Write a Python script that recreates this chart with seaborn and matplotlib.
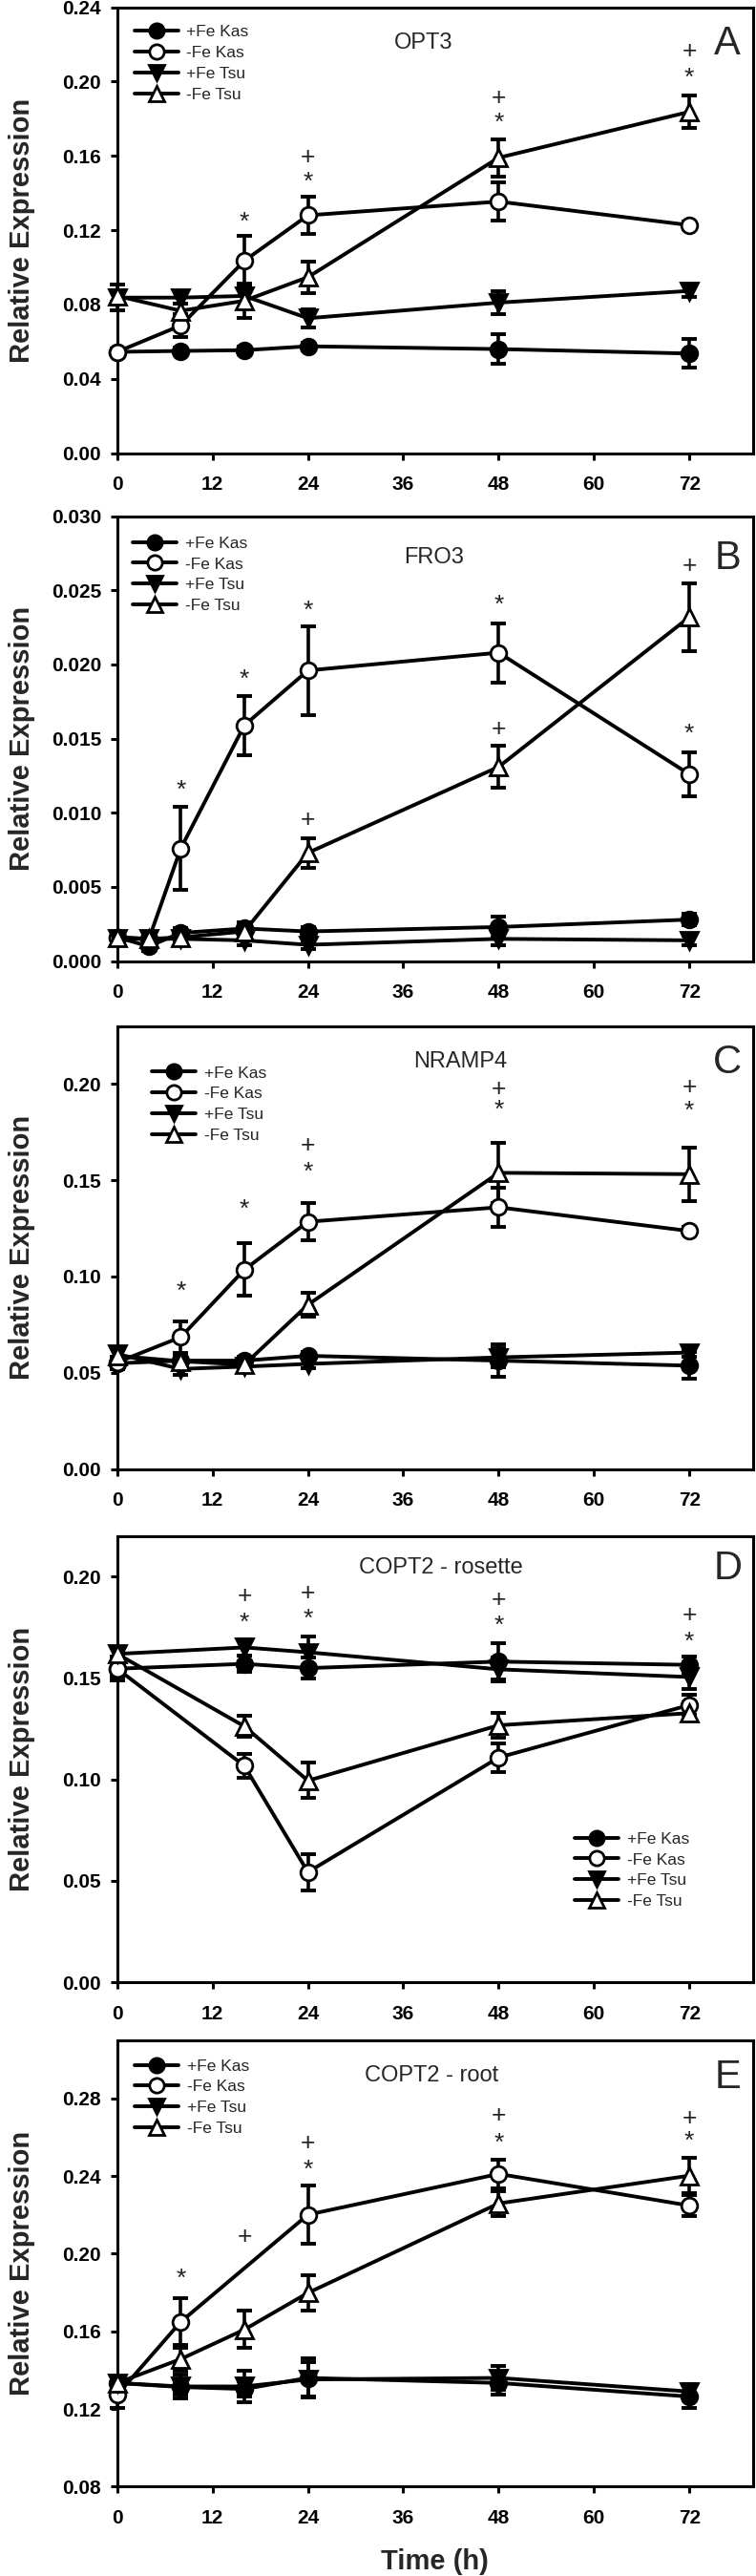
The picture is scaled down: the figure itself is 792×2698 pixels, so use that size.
import numpy as np
import pandas as pd
import seaborn as sns
import matplotlib.pyplot as plt
from matplotlib.lines import Line2D

# ---- data ----
SERIES_NAMES = ["+Fe Kas", "-Fe Kas", "+Fe Tsu", "-Fe Tsu"]

# A: OPT3
OPT3_HOURS = [0, 8, 16, 24, 48, 72]
OPT3_KAS_PLUS = [0.0545, 0.0550, 0.0554, 0.0575, 0.0560, 0.0536]
OPT3_KAS_PLUS_ERR = [0.002, 0.002, 0.002, 0.002, 0.008, 0.0078]
OPT3_KAS_MINUS = [0.0545, 0.0687, 0.1035, 0.1280, 0.1354, 0.1227]
OPT3_KAS_MINUS_ERR = [0.002, 0.006, 0.0135, 0.0100, 0.0104, 0.002]
OPT3_TSU_PLUS = [0.0837, 0.0837, 0.0846, 0.0726, 0.0810, 0.0873]
OPT3_TSU_PLUS_ERR = [0.007, 0.003, 0.006, 0.005, 0.006, 0.003]
OPT3_TSU_MINUS = [0.0846, 0.0766, 0.0820, 0.0947, 0.1590, 0.1837]
OPT3_TSU_MINUS_ERR = [0.003, 0.004, 0.009, 0.0086, 0.010, 0.0087]
OPT3_SIG = [(16, "*", 0.124), (24, "*", 0.146), (24, "+", 0.159), (48, "*", 0.1775),
            (48, "+", 0.191), (72, "*", 0.202), (72, "+", 0.216)]

# B: FRO3
FRO3_HOURS = [0, 4, 8, 16, 24, 48, 72]
FRO3_KAS_PLUS = [0.0016, 0.0010, 0.0019, 0.0022, 0.0020, 0.0023, 0.0028]
FRO3_KAS_PLUS_ERR = [0.0003, 0.0003, 0.0003, 0.0004, 0.0003, 0.0007, 0.0004]
FRO3_KAS_MINUS = [0.0016, 0.0015, 0.0076, 0.0159, 0.0196, 0.0208, 0.0126]
FRO3_KAS_MINUS_ERR = [0.0003, 0.0004, 0.0028, 0.0020, 0.0030, 0.0020, 0.0015]
FRO3_TSU_PLUS = [0.0015, 0.0015, 0.0015, 0.0014, 0.0011, 0.0015, 0.0014]
FRO3_TSU_PLUS_ERR = [0.0003, 0.0003, 0.0003, 0.0003, 0.0003, 0.0004, 0.0003]
FRO3_TSU_MINUS = [0.0016, 0.0015, 0.0016, 0.0020, 0.0073, 0.0131, 0.0232]
FRO3_TSU_MINUS_ERR = [0.0003, 0.0003, 0.0003, 0.0004, 0.0010, 0.0014, 0.0023]
FRO3_SIG = [(8, "*", 0.0115), (16, "*", 0.0190), (24, "*", 0.0236), (48, "*", 0.0240),
            (24, "+", 0.0095), (48, "+", 0.0156), (72, "+", 0.0266), (72, "*", 0.0153)]

# C: NRAMP4
NRAMP4_HOURS = [0, 8, 16, 24, 48, 72]
NRAMP4_KAS_PLUS = [0.0549, 0.0563, 0.0563, 0.0588, 0.0563, 0.0537]
NRAMP4_KAS_PLUS_ERR = [0.003, 0.003, 0.002, 0.002, 0.0083, 0.007]
NRAMP4_KAS_MINUS = [0.0554, 0.0685, 0.1035, 0.1284, 0.1359, 0.1236]
NRAMP4_KAS_MINUS_ERR = [0.003, 0.008, 0.0136, 0.0098, 0.0102, 0.002]
NRAMP4_TSU_PLUS = [0.0597, 0.0520, 0.0532, 0.0546, 0.0580, 0.0605]
NRAMP4_TSU_PLUS_ERR = [0.003, 0.003, 0.002, 0.002, 0.005, 0.002]
NRAMP4_TSU_MINUS = [0.0588, 0.0560, 0.0542, 0.0853, 0.1538, 0.1531]
NRAMP4_TSU_MINUS_ERR = [0.004, 0.004, 0.002, 0.0063, 0.0155, 0.0139]
NRAMP4_SIG = [(8, "*", 0.092), (16, "*", 0.1347), (24, "*", 0.1538), (24, "+", 0.168),
              (48, "*", 0.1862), (48, "+", 0.197), (72, "*", 0.186), (72, "+", 0.198)]

# D: COPT2 - rosette
ROSETTE_HOURS = [0, 16, 24, 48, 72]
ROSETTE_KAS_PLUS = [0.1546, 0.1570, 0.1549, 0.1581, 0.1565]
ROSETTE_KAS_PLUS_ERR = [0.004, 0.004, 0.005, 0.009, 0.004]
ROSETTE_KAS_MINUS = [0.1546, 0.1067, 0.0543, 0.1108, 0.1367]
ROSETTE_KAS_MINUS_ERR = [0.006, 0.006, 0.009, 0.007, 0.005]
ROSETTE_TSU_PLUS = [0.1619, 0.1651, 0.1627, 0.1543, 0.1505]
ROSETTE_TSU_PLUS_ERR = [0.003, 0.004, 0.008, 0.006, 0.006]
ROSETTE_TSU_MINUS = [0.1619, 0.1262, 0.0994, 0.1267, 0.1327]
ROSETTE_TSU_MINUS_ERR = [0.003, 0.005, 0.0087, 0.006, 0.003]
ROSETTE_SIG = [(16, "*", 0.1773), (16, "+", 0.1903), (24, "*", 0.1789), (24, "+", 0.1919),
               (48, "*", 0.1757), (48, "+", 0.1883), (72, "*", 0.1676), (72, "+", 0.181)]

# E: COPT2 - root
ROOT_HOURS = [0, 8, 16, 24, 48, 72]
ROOT_KAS_PLUS = [0.1334, 0.1313, 0.1303, 0.1360, 0.1334, 0.1264]
ROOT_KAS_PLUS_ERR = [0.003, 0.004, 0.004, 0.010, 0.006, 0.006]
ROOT_KAS_MINUS = [0.1273, 0.1649, np.nan, 0.2201, 0.2411, 0.2248]
ROOT_KAS_MINUS_ERR = [0.007, 0.012, np.nan, 0.015, 0.0075, 0.0055]
ROOT_TSU_PLUS = [0.1334, 0.1316, 0.1316, 0.1352, 0.1360, 0.1290]
ROOT_TSU_PLUS_ERR = [0.003, 0.006, 0.008, 0.009, 0.006, 0.004]
ROOT_TSU_MINUS = [0.1334, 0.1457, 0.1609, 0.1798, 0.2259, 0.2402]
ROOT_TSU_MINUS_ERR = [0.003, 0.006, 0.0096, 0.009, 0.0065, 0.009]
ROOT_SIG = [(8, "*", 0.1868), (16, "+", 0.2084), (24, "*", 0.2429), (24, "+", 0.2569),
            (48, "*", 0.2569), (48, "+", 0.2709), (72, "*", 0.2578), (72, "+", 0.2697)]

X_TICKS = [0, 12, 24, 36, 48, 60, 72]

# marker style per series (marker, face colour)
STYLES = {"+Fe Kas": ("o", "black"), "-Fe Kas": ("o", "white"),
          "+Fe Tsu": ("v", "black"), "-Fe Tsu": ("^", "white")}

sns.set_theme(style="ticks")
plt.rcParams["font.family"] = ["Liberation Sans", "DejaVu Sans"]
plt.rcParams["axes.linewidth"] = 2.2


def long_table(hours, vals, errs):
    rows = []
    for name, v, e in zip(SERIES_NAMES, vals, errs):
        for h, y, s in zip(hours, v, e):
            rows.append({"hour": h, "series": name, "value": y, "err": s})
    return pd.DataFrame(rows).dropna()


def draw_panel(ax, df, ylim, yticks, yfmt, title, title_xy, letter, leg_anchor, sig):
    for name in SERIES_NAMES:
        sub = df[df["series"] == name]
        marker, face = STYLES[name]
        ax.errorbar(sub["hour"], sub["value"], yerr=sub["err"], fmt="none",
                    ecolor="black", elinewidth=2.6, capsize=6, capthick=2.8,
                    zorder=2, clip_on=False)
        sns.lineplot(data=sub, x="hour", y="value", ax=ax, color="black",
                     estimator=None, sort=True, lw=2.8, marker=marker,
                     markersize=12 if marker == "o" else 13,
                     markerfacecolor=face, markeredgecolor="black",
                     markeredgewidth=2.0, zorder=3, clip_on=False, legend=False)

    ax.set_xlim(0, 80)
    ax.set_ylim(*ylim)
    ax.set_xticks(X_TICKS)
    ax.set_yticks(yticks)
    ax.set_yticklabels([yfmt.format(t) for t in yticks])
    ax.tick_params(axis="both", direction="out", length=5, width=2.2,
                   labelsize=15, colors="black")
    ax.tick_params(axis="x", pad=12)
    ax.tick_params(axis="y", pad=7)
    for lab in ax.get_xticklabels() + ax.get_yticklabels():
        lab.set_fontweight("bold")
    for sp in ax.spines.values():
        sp.set_visible(True)
        sp.set_color("black")
        sp.set_linewidth(2.2)

    ax.set_xlabel("")
    ax.set_ylabel("Relative Expression", fontsize=21, fontweight="bold", va="center")
    ax.yaxis.set_label_coords(-0.15, 0.5)

    ax.text(title_xy[0], title_xy[1], title, transform=ax.transAxes,
            ha="center", va="center", fontsize=17)
    ax.text(0.96, title_xy[1] - 0.003, letter, transform=ax.transAxes,
            ha="center", va="center", fontsize=30)

    for h, sym, y in sig:
        ax.text(h, y, sym, ha="center", va="center", fontsize=19,
                color="#222222", fontweight="light")

    handles = []
    for name in SERIES_NAMES:
        marker, face = STYLES[name]
        handles.append(Line2D([], [], color="black", lw=2.8, marker=marker,
                              markersize=11, markerfacecolor=face,
                              markeredgecolor="black", markeredgewidth=2.0,
                              label=name))
    ax.legend(handles=handles, loc="upper left", bbox_to_anchor=leg_anchor,
              frameon=False, fontsize=12.5, handlelength=2.65,
              handletextpad=0.5, labelspacing=0.38, borderpad=0,
              borderaxespad=0)


fig = plt.figure(figsize=(7.92, 26.98), dpi=100)
left, width = 0.155, 0.841
ax_a = fig.add_axes([left, 0.8241, width, 0.1731])
ax_b = fig.add_axes([left, 0.6269, width, 0.1727])
ax_c = fig.add_axes([left, 0.4297, width, 0.1720])
ax_d = fig.add_axes([left, 0.2305, width, 0.1732])
ax_e = fig.add_axes([left, 0.0347, width, 0.1733])

draw_panel(ax_a,
           long_table(OPT3_HOURS,
                      [OPT3_KAS_PLUS, OPT3_KAS_MINUS, OPT3_TSU_PLUS, OPT3_TSU_MINUS],
                      [OPT3_KAS_PLUS_ERR, OPT3_KAS_MINUS_ERR, OPT3_TSU_PLUS_ERR, OPT3_TSU_MINUS_ERR]),
           (0, 0.24), np.arange(0, 0.241, 0.04), "{:.2f}", "OPT3", (0.482, 0.92), "A",
           (0.027, 0.96), OPT3_SIG)

draw_panel(ax_b,
           long_table(FRO3_HOURS,
                      [FRO3_KAS_PLUS, FRO3_KAS_MINUS, FRO3_TSU_PLUS, FRO3_TSU_MINUS],
                      [FRO3_KAS_PLUS_ERR, FRO3_KAS_MINUS_ERR, FRO3_TSU_PLUS_ERR, FRO3_TSU_MINUS_ERR]),
           (0, 0.030), np.arange(0, 0.0301, 0.005), "{:.3f}", "FRO3", (0.498, 0.908), "B",
           (0.025, 0.955), FRO3_SIG)

draw_panel(ax_c,
           long_table(NRAMP4_HOURS,
                      [NRAMP4_KAS_PLUS, NRAMP4_KAS_MINUS, NRAMP4_TSU_PLUS, NRAMP4_TSU_MINUS],
                      [NRAMP4_KAS_PLUS_ERR, NRAMP4_KAS_MINUS_ERR, NRAMP4_TSU_PLUS_ERR, NRAMP4_TSU_MINUS_ERR]),
           (0, 0.23), np.arange(0, 0.201, 0.05), "{:.2f}", "NRAMP4", (0.539, 0.92), "C",
           (0.055, 0.91), NRAMP4_SIG)

draw_panel(ax_d,
           long_table(ROSETTE_HOURS,
                      [ROSETTE_KAS_PLUS, ROSETTE_KAS_MINUS, ROSETTE_TSU_PLUS, ROSETTE_TSU_MINUS],
                      [ROSETTE_KAS_PLUS_ERR, ROSETTE_KAS_MINUS_ERR, ROSETTE_TSU_PLUS_ERR, ROSETTE_TSU_MINUS_ERR]),
           (0, 0.22), np.arange(0, 0.201, 0.05), "{:.2f}", "COPT2 - rosette", (0.509, 0.93), "D",
           (0.72, 0.337), ROSETTE_SIG)

draw_panel(ax_e,
           long_table(ROOT_HOURS,
                      [ROOT_KAS_PLUS, ROOT_KAS_MINUS, ROOT_TSU_PLUS, ROOT_TSU_MINUS],
                      [ROOT_KAS_PLUS_ERR, ROOT_KAS_MINUS_ERR, ROOT_TSU_PLUS_ERR, ROOT_TSU_MINUS_ERR]),
           (0.08, 0.31), np.arange(0.08, 0.281, 0.04), "{:.2f}", "COPT2 - root", (0.494, 0.92), "E",
           (0.028, 0.958), ROOT_SIG)

ax_e.set_xlabel("Time (h)", fontsize=21, fontweight="bold", va="center")
ax_e.xaxis.set_label_coords(0.5, -0.168)

fig.savefig("out.png", dpi=100)
